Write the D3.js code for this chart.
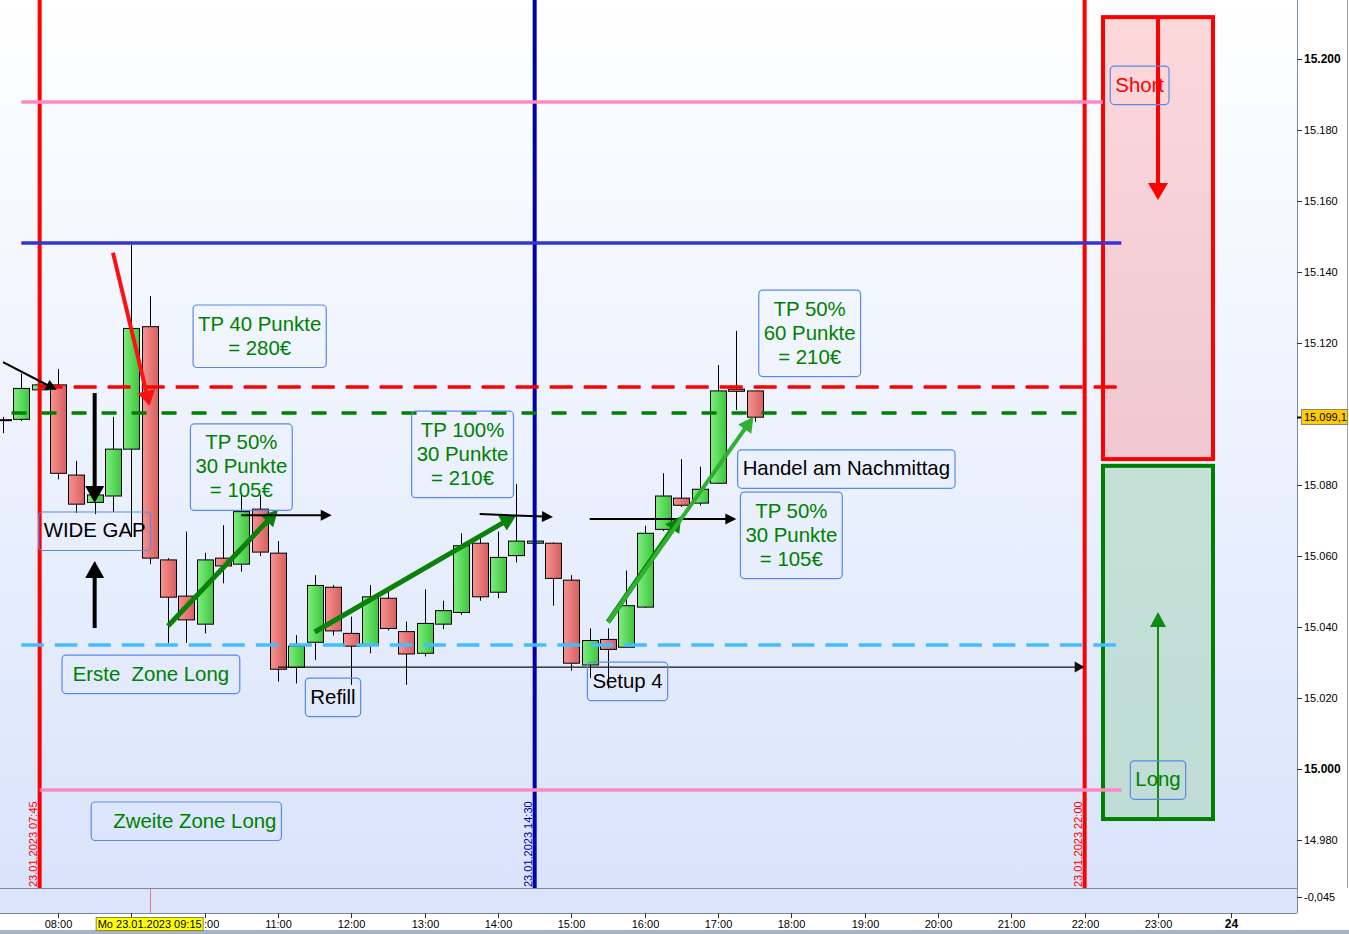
<!DOCTYPE html>
<html>
<head>
<meta charset="utf-8">
<script src="https://cdn.jsdelivr.net/npm/d3@7"></script>
<style>
  body { margin: 0; background: #fff; }
  svg { display: block; font-family: "Liberation Sans", Arial, sans-serif; }
</style>
</head>
<body>
<script>
// ---- data (15 min candles, 23.01.2023) ----
var candleTimes = ["07:15","07:30","07:45","08:00","08:15","08:30","08:45","09:00","09:15","09:30",
    "09:45","10:00","10:15","10:30","10:45","11:00","11:15","11:30","11:45","12:00",
    "12:15","12:30","12:45","13:00","13:15","13:30","13:45","14:00","14:15","14:30",
    "14:45","15:00","15:15","15:30","15:45","16:00","16:15","16:30","16:45","17:00",
    "17:15","17:30"];
var opens = [15098.4,15098.5,15106.8,15108.2,15082.8,15075.1,15076.9,15090.1,15124.6,15058.9,
    15048.7,15040.8,15059.4,15057.7,15073.2,15060.8,15028.6,15035.7,15051.2,15038.2,
    15034.8,15048.1,15038.7,15032.6,15040.8,15044.1,15063.6,15049.8,15060.1,15063.6,
    15063.6,15053.2,15029.3,15036.5,15034.3,15045.6,15067.5,15076.3,15074.9,15080.5,
    15107.0,15106.5];
var highs = [15099.2,15111.4,15109.0,15112.7,15086.8,15078.6,15099.2,15147.6,15133.2,15059.4,
    15066.9,15060.9,15068.7,15077.7,15077.2,15064.2,15037.7,15054.6,15051.8,15042.9,
    15051.8,15050.1,15041.5,15050.6,15047.4,15066.4,15065.9,15066.9,15080.3,15064.5,
    15063.8,15054.6,15039.6,15039.6,15055.9,15068.5,15083.3,15087.3,15085.2,15113.8,
    15123.4,15106.5];
var lows = [15094.6,15098.0,15106.0,15081.6,15072.1,15071.8,15072.4,15065.4,15057.7,15035.5,
    15035.5,15038.2,15052.3,15055.6,15060.0,15024.6,15024.1,15030.7,15037.6,15023.7,
    15032.6,15039.0,15023.7,15031.7,15039.4,15043.4,15047.4,15048.1,15058.2,15063.3,
    15046.0,15027.7,15025.6,15022.7,15034.3,15045.4,15067.0,15073.8,15074.2,15080.3,
    15101.1,15097.8];
var closes = [15098.2,15107.2,15108.2,15083.3,15074.6,15077.2,15090.1,15124.1,15059.4,15048.4,
    15042.0,15058.9,15057.2,15072.5,15061.1,15028.1,15034.6,15051.7,15038.9,15034.6,
    15048.5,15039.6,15032.4,15041.0,15044.6,15062.9,15048.5,15059.6,15064.2,15064.2,
    15053.7,15029.8,15036.2,15033.7,15046.0,15066.4,15076.9,15074.3,15078.8,15106.5,
    15106.4,15099.1];
var lastPrice = 15099.1;
var indicatorValue = -0.045;
var cursorTime = "09:15";

var priceTicks = [14980, 15000, 15020, 15040, 15060, 15080, 15100, 15120, 15140, 15160, 15180, 15200];
var hourTicks = ["08:00","09:00","10:00","11:00","12:00","13:00","14:00","15:00","16:00",
    "17:00","18:00","19:00","20:00","21:00","22:00","23:00","24:00"];

// horizontal levels
var levelKinds  = ["pink", "blue", "cyanDash", "pink", "redDash", "greenDash"];
var levelPrices = [15187.9, 15148.2, 15034.9, 14994.1, 15107.6, 15100.3];
var levelFrom   = ["07:30", "07:30", "07:30", "07:45", "07:45", "07:22"];
var levelTo     = ["22:15", "22:30", "22:30", "22:30", "22:30", "22:00"];

// vertical time markers
var markerTimes = ["07:45", "14:30", "22:00"];
var markerKinds = ["red", "navy", "red"];

// short / long zones
var zoneFrom = "22:15", zoneTo = "23:45";
var shortZone = [15211.8, 15087.3];
var longZone = [15085.4, 14985.9];

// arrows
var arrowKinds = ["thinBlack","red","thickBlack","thickBlack","green","thinBlack","green",
    "thinBlack","thinBlack","green","lightGreen","thinLine","shortRed","longGreen"];
var arrowFromTime  = ["07:15","08:45","08:30","08:30","09:30","10:30","11:30","13:45","15:15","15:30","15:30","11:00","23:00","23:00"];
var arrowFromPrice = [15114.6,15145.4,15105.9,15039.7,15040.3,15071.5,15038.6,15071.8,15070.4,15041.4,15041.4,15028.7,15211.8,14985.9];
var arrowToTime    = ["07:59","09:15","08:30","08:30","11:00","11:44","14:15","14:45","17:15","16:30","17:29","22:00","23:00","23:00"];
var arrowToPrice   = [15106.8,15102.3,15074.9,15058.6,15073.0,15071.5,15071.5,15071.0,15070.4,15071.3,15099.2,15028.7,15160.3,15044.2];

// text notes (centre time, top price)
var noteLines = [
    ["TP 40 Punkte", "= 280\u20ac"],
    ["TP 50%", "30 Punkte", "= 105\u20ac"],
    ["WIDE GAP"],
    [" Erste  Zone Long "],
    ["   Zweite Zone Long"],
    ["Refill"],
    ["TP 100%", "30 Punkte", "= 210\u20ac"],
    ["Setup 4"],
    ["TP 50%", "60 Punkte", "= 210\u20ac"],
    ["Handel am Nachmittag"],
    ["TP 50%", "30 Punkte", "= 105\u20ac"],
    ["Short"],
    ["Long"]
];
var noteTimes  = ["10:45","10:30","08:30","09:16","09:45","11:45","13:31","15:46","18:15","18:45","18:00","22:45","23:00"];
var notePrices = [15130.7,15097.2,15072.4,15032.1,14990.7,15025.6,15100.8,15030.1,15134.9,15089.9,15078.0,15198.0,15002.3];
var noteKinds  = ["green","green","black","green","green","black","green","black","green","black","green","red","green"];

// ---- styles ----
var levelStyle = {
    pink:      { color: "#ff88c2", dash: null },
    blue:      { color: "#3535d0", dash: null },
    redDash:   { color: "#ff0000", dash: "23,11" },
    greenDash: { color: "#008000", dash: "15,15" },
    cyanDash:  { color: "#44bdff", dash: "22.5,11" }
};
var markerColor = { red: "#ff0000", navy: "#0000a8" };
var arrowStyle = {
    thinBlack:  { color: "#000", w: 2, len: 11, half: 5.5 },
    thinLine:   { color: "#111", w: 1.4, len: 10, half: 5.5 },
    thickBlack: { color: "#000", w: 4, len: 17, half: 9.5 },
    red:        { color: "#ff1010", w: 4, len: 15, half: 9 },
    green:      { color: "#0a820a", w: 5, len: 16, half: 8.5 },
    lightGreen: { color: "#2fb02f", w: 4, len: 15, half: 8 },
    shortRed:   { color: "#ff0000", w: 4, len: 17, half: 10 },
    longGreen:  { color: "#108a10", w: 2, len: 15, half: 8 }
};
var noteColor = { green: "#008000", black: "#000000", red: "#ff0000" };

var W = 1349, H = 934;
var plotRight = 1297, plotBottom = 888, subTop = 889, subBottom = 913;

function t(s) {
    var p = s.split(":");
    return new Date(Date.UTC(2023, 0, 23, +p[0], +p[1]));
}

var x = d3.scaleUtc()
    .domain([t("08:00"), t("24:00")])
    .range([58, 1231.33]);
var y = d3.scaleLinear()
    .domain([15000, 15200])
    .range([769, 59]);

var de = d3.formatLocale({ decimal: ",", thousands: ".", grouping: [3], currency: ["", "\u20ac"], minus: "-" });

var svg = d3.select("body").append("svg")
    .attr("width", W)
    .attr("height", H);

var defs = svg.append("defs");
function gradient(id, stops, vertical) {
    var g = defs.append("linearGradient").attr("id", id)
        .attr("x1", 0).attr("y1", 0)
        .attr("x2", vertical ? 0 : 1).attr("y2", vertical ? 1 : 0);
    stops.forEach(function(s, i) {
        g.append("stop").attr("offset", i / (stops.length - 1)).attr("stop-color", s);
    });
}
gradient("bg", ["#ffffff", "#d9e4fc"], true);
gradient("up", ["#7ded7d", "#3ec63e"], false);
gradient("dn", ["#f89191", "#d66060"], false);
gradient("shortFill", ["#fcd8db", "#efc8d2"], true);
gradient("longFill", ["#c5e1d7", "#bfdcd6"], true);
defs.append("clipPath").attr("id", "plotClip")
    .append("rect").attr("width", plotRight).attr("height", plotBottom);

// backgrounds
svg.append("rect").attr("width", plotRight).attr("height", plotBottom).attr("fill", "url(#bg)");
svg.append("rect").attr("y", subTop).attr("width", plotRight).attr("height", subBottom - subTop).attr("fill", "#dae5fc");
svg.append("rect").attr("y", 930).attr("width", W).attr("height", 4).attr("fill", "#a4b5c5");

var plot = svg.append("g").attr("clip-path", "url(#plotClip)");

// zones
[[shortZone, "url(#shortFill)", "#ff0000"], [longZone, "url(#longFill)", "#008000"]].forEach(function(z) {
    plot.append("rect")
        .attr("x", x(t(zoneFrom)))
        .attr("y", y(z[0][0]))
        .attr("width", x(t(zoneTo)) - x(t(zoneFrom)))
        .attr("height", y(z[0][1]) - y(z[0][0]))
        .attr("fill", z[1])
        .attr("stroke", z[2])
        .attr("stroke-width", 4);
});

// candles
var candles = candleTimes.map(function(s, i) {
    return { t: t(s), o: opens[i], h: highs[i], l: lows[i], c: closes[i] };
});
var candle = plot.append("g").selectAll("g")
    .data(candles)
    .enter().append("g");
candle.append("line")
    .attr("x1", function(d) { return Math.round(x(d.t)) + 0.5; })
    .attr("x2", function(d) { return Math.round(x(d.t)) + 0.5; })
    .attr("y1", function(d) { return y(d.h); })
    .attr("y2", function(d) { return y(d.l); })
    .attr("stroke", "#000")
    .attr("stroke-width", 1);
candle.append("rect")
    .attr("x", function(d) { return Math.round(x(d.t)) - 7.5; })
    .attr("width", 16)
    .attr("y", function(d) { return y(Math.max(d.o, d.c)); })
    .attr("height", function(d) { return Math.max(1, Math.abs(y(d.o) - y(d.c))); })
    .attr("fill", function(d) { return d.c >= d.o ? "url(#up)" : "url(#dn)"; })
    .attr("stroke", "#000")
    .attr("stroke-width", 1);

// vertical markers
markerTimes.forEach(function(s, i) {
    var mx = x(t(s));
    plot.append("line")
        .attr("x1", mx).attr("x2", mx)
        .attr("y1", 0).attr("y2", plotBottom)
        .attr("stroke", markerColor[markerKinds[i]])
        .attr("stroke-width", 4);
    plot.append("text")
        .attr("transform", "translate(" + (mx - 3) + "," + (plotBottom - 1) + ") rotate(-90)")
        .attr("font-size", 11)
        .attr("fill", markerColor[markerKinds[i]])
        .text("23.01.2023 " + s);
});

// horizontal levels
levelPrices.forEach(function(p, i) {
    var st = levelStyle[levelKinds[i]];
    plot.append("line")
        .attr("x1", x(t(levelFrom[i]))).attr("x2", x(t(levelTo[i])))
        .attr("y1", y(p)).attr("y2", y(p))
        .attr("stroke", st.color)
        .attr("stroke-width", 3.5)
        .attr("stroke-dasharray", st.dash);
});

// arrows
function arrow(g, x1, y1, x2, y2, st) {
    var dx = x2 - x1, dy = y2 - y1, L = Math.sqrt(dx * dx + dy * dy);
    var ux = dx / L, uy = dy / L;
    var bx = x2 - ux * st.len, by = y2 - uy * st.len;
    g.append("line")
        .attr("x1", x1).attr("y1", y1)
        .attr("x2", bx + ux * 2).attr("y2", by + uy * 2)
        .attr("stroke", st.color)
        .attr("stroke-width", st.w);
    g.append("path")
        .attr("d", "M" + x2 + "," + y2 +
            "L" + (bx - uy * st.half) + "," + (by + ux * st.half) +
            "L" + (bx + uy * st.half) + "," + (by - ux * st.half) + "Z")
        .attr("fill", st.color);
}
var arrows = plot.append("g");
arrowKinds.forEach(function(k, i) {
    arrow(arrows,
        x(t(arrowFromTime[i])), y(arrowFromPrice[i]),
        x(t(arrowToTime[i])), y(arrowToPrice[i]),
        arrowStyle[k]);
});

// notes
var notes = plot.append("g");
noteLines.forEach(function(lines, i) {
    var g = notes.append("g");
    var cx = x(t(noteTimes[i])), top = y(notePrices[i]);
    var txt = g.append("text")
        .attr("font-size", 20.4)
        .attr("text-anchor", "middle")
        .attr("fill", noteColor[noteKinds[i]])
        .attr("xml:space", "preserve")
        .style("white-space", "pre");
    var wMax = 0;
    lines.forEach(function(s, j) {
        var ts = txt.append("tspan")
            .attr("x", cx)
            .attr("y", top + 25.5 + j * 24)
            .text(s);
        wMax = Math.max(wMax, ts.node().getComputedTextLength());
    });
    g.insert("rect", "text")
        .attr("x", cx - wMax / 2 - 5)
        .attr("y", top)
        .attr("width", wMax + 10)
        .attr("height", 38.5 + 24 * (lines.length - 1))
        .attr("rx", 4)
        .attr("fill", "none")
        .attr("stroke", "#5a8ae6")
        .attr("stroke-width", 1.2);
});

// frame lines
svg.append("line").attr("x1", 0).attr("x2", plotRight).attr("y1", plotBottom + 0.5).attr("y2", plotBottom + 0.5).attr("stroke", "#7b8b9a");
svg.append("line").attr("x1", 0).attr("x2", plotRight).attr("y1", subBottom + 0.5).attr("y2", subBottom + 0.5).attr("stroke", "#7b8b9a");
svg.append("line").attr("x1", plotRight + 0.5).attr("x2", plotRight + 0.5).attr("y1", 0).attr("y2", subBottom).attr("stroke", "#7b8b9a");
svg.append("line").attr("x1", W - 1.5).attr("x2", W - 1.5).attr("y1", 0).attr("y2", plotBottom).attr("stroke", "#9aa6b2");

// cursor line in lower panel
svg.append("line")
    .attr("x1", Math.round(x(t(cursorTime))) + 0.5).attr("x2", Math.round(x(t(cursorTime))) + 0.5)
    .attr("y1", subTop).attr("y2", subBottom)
    .attr("stroke", "#f08080");

// price axis
var yAxis = svg.append("g");
var yTick = yAxis.selectAll("g")
    .data(priceTicks.filter(function(v) { return Math.abs(y(v) - y(lastPrice)) > 10; }))
    .enter().append("g")
    .attr("transform", function(v) { return "translate(" + plotRight + "," + Math.round(y(v)) + ")"; });
yTick.append("line").attr("x1", 0).attr("x2", 5).attr("y1", 0.5).attr("y2", 0.5).attr("stroke", "#333");
yTick.append("text")
    .attr("x", 7)
    .attr("dy", "0.35em")
    .attr("font-size", function(v) { return v % 100 === 0 ? 12 : 11; })
    .attr("font-weight", function(v) { return v % 100 === 0 ? "bold" : null; })
    .attr("fill", "#000")
    .text(function(v) { return de.format(",")(v); });

// last price marker
var ly = Math.round(y(lastPrice));
svg.append("line").attr("x1", plotRight).attr("x2", plotRight + 5).attr("y1", ly + 0.5).attr("y2", ly + 0.5).attr("stroke", "#000").attr("stroke-width", 2);
svg.append("rect").attr("x", plotRight + 4.5).attr("y", ly - 7.5).attr("width", 46).attr("height", 15)
    .attr("fill", "#ffcc00").attr("stroke", "#8a8a70");
svg.append("text").attr("x", plotRight + 7).attr("y", ly).attr("dy", "0.36em")
    .attr("font-size", 11).text(de.format(",.1f")(lastPrice));

// lower panel value
svg.append("line").attr("x1", plotRight).attr("x2", plotRight + 5).attr("y1", 897.5).attr("y2", 897.5).attr("stroke", "#333");
svg.append("text").attr("x", plotRight + 7).attr("y", 897).attr("dy", "0.35em")
    .attr("font-size", 11).text(de.format(".3f")(indicatorValue));

// time axis group first, the cursor label sits on top of it
var xAxis = svg.append("g");

var cx0 = x(t(cursorTime));
var cursorLabel = svg.append("g");
var cText = cursorLabel.append("text")
    .attr("x", cx0).attr("y", 928)
    .attr("text-anchor", "middle")
    .attr("font-size", 11)
    .text("Mo " + d3.utcFormat("%d.%m.%Y %H:%M")(t(cursorTime)));
var cw = cText.node().getComputedTextLength();
var cLeft = cx0 - cw / 2 - 1.5, cRight = cx0 + cw / 2 + 1.5;
cursorLabel.insert("rect", "text")
    .attr("x", cLeft).attr("y", 917.5)
    .attr("width", cRight - cLeft).attr("height", 13)
    .attr("fill", "#ffff00").attr("stroke", "#8a8a40");

var xTick = xAxis.selectAll("g")
    .data(hourTicks)
    .enter().append("g")
    .attr("transform", function(s) { return "translate(" + (Math.round(x(t(s))) + 0.5) + "," + subBottom + ")"; });
xTick.append("line").attr("y1", 0).attr("y2", 5).attr("stroke", "#333");
xTick.each(function(s) {
    var g = d3.select(this);
    var label = s === "24:00" ? "24" : s;
    var txt = g.append("text")
        .attr("y", 15)
        .attr("text-anchor", "middle")
        .attr("font-size", s === "24:00" ? 12 : 11)
        .attr("font-weight", s === "24:00" ? "bold" : null)
        .text(label);
    // the cursor label hides what lies beneath it
    var tx = Math.round(x(t(s))) + 0.5;
    var half = txt.node().getComputedTextLength() / 2;
    if (tx + half > cLeft && tx - half < cRight) {
        var hidden = 0;
        while (hidden < label.length) {
            var sub = txt.node().getSubStringLength(0, hidden + 1);
            if (tx - half + sub > cRight + 1) break;
            hidden++;
        }
        if (hidden >= label.length) {
            txt.remove();
        } else {
            var shift = txt.node().getSubStringLength(0, hidden);
            txt.attr("text-anchor", "start")
                .attr("x", -half + shift)
                .text(label.slice(hidden));
        }
    }
});
</script>
</body>
</html>
